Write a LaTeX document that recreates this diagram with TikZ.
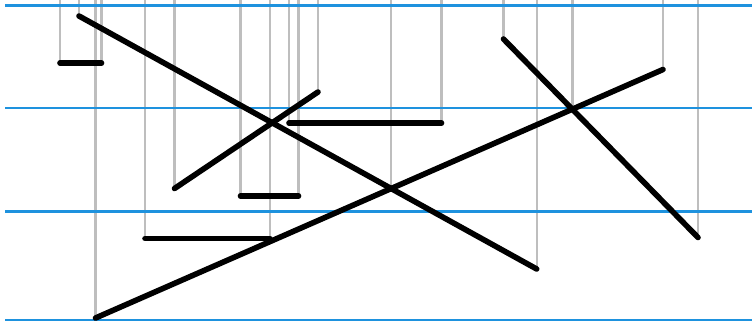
\documentclass[tikz,border=0pt]{standalone}
\definecolor{sweepblue}{RGB}{30,146,222}
\definecolor{guidegray}{RGB}{190,190,190}
\tikzset{
  segline/.style={line width=5.6pt,line cap=round,black},
  guideline/.style={line width=2.3pt,guidegray},
  bandline/.style={line width=2.8pt,sweepblue}
}
\begin{document}
\begin{tikzpicture}[x=1pt,y=-1pt]
\useasboundingbox (0,0) rectangle (752,322);
% endpoints
\coordinate (A1) at (79,16);   \coordinate (A2) at (536.7,269);
\coordinate (B1) at (60,63); \coordinate (B2) at (101.5,63);
\coordinate (C1) at (174.5,188.5); \coordinate (C2) at (318,92);
\coordinate (D1) at (289,123); \coordinate (D2) at (441.5,123);
\coordinate (E1) at (240.5,196); \coordinate (E2) at (298.5,196);
\coordinate (F1) at (145,238.5); \coordinate (F2) at (270,238.5);
\coordinate (G1) at (95.5,318); \coordinate (G2) at (663,69.5);
\coordinate (H1) at (503.5,39); \coordinate (H2) at (698,237.5);
\coordinate (XAG) at (intersection of A1--A2 and G1--G2);
\coordinate (XGH) at (intersection of G1--G2 and H1--H2);
\coordinate (top) at (0,0);
% guide lines
\foreach \p in {A1,A2,B1,B2,C1,C2,D1,D2,E1,E2,F1,F2,G1,G2,H1,H2,XAG,XGH}
  \draw[guideline] (\p |- top) -- (\p);
% band lines
\coordinate (L0) at (5,5.5);   \coordinate (R0) at (752,5.5);
\coordinate (L1) at (5,108);   \coordinate (R1) at (752,108);
\coordinate (L2) at (5,211.5); \coordinate (R2) at (752,211.5);
\coordinate (L3) at (5,320);   \coordinate (R3) at (752,320);
\draw[bandline] (L0) -- (R0);
\draw[bandline] (L1) -- (R1);
\draw[bandline] (L2) -- (R2);
\draw[bandline] (L3) -- (R3);
% segments
\draw[segline] (A1) -- (A2);
\draw[segline] (B1) -- (B2);
\draw[segline] (C1) -- (C2);
\draw[segline] (D1) -- (D2);
\draw[segline] (E1) -- (E2);
\draw[segline] (F1) -- (F2);
\draw[segline] (G1) -- (G2);
\draw[segline] (H1) -- (H2);
\end{tikzpicture}
\end{document}
